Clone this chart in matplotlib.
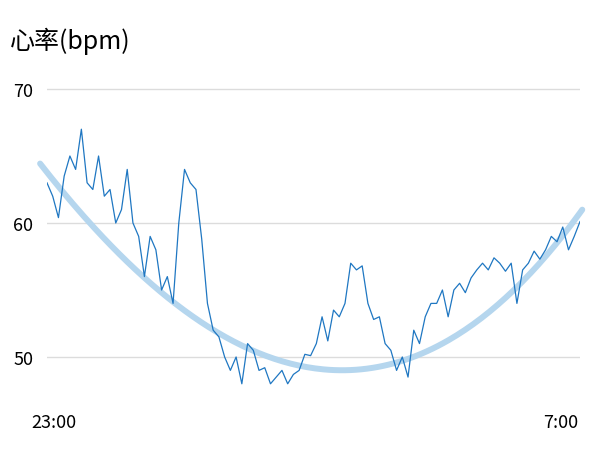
import numpy as np
import matplotlib
matplotlib.use("Agg")
import matplotlib.pyplot as plt

plt.rcParams['font.family'] = ['Noto Sans CJK SC', 'DejaVu Sans']

# heart rate samples, 23:00 -> 7:00
heart_rate = [
    63.0, 62.0, 60.4, 63.5, 65.0, 64.0, 67.0, 63.0, 62.5, 65.0,
    62.0, 62.5, 60.0, 61.0, 64.0, 60.0, 59.0, 56.0, 59.0, 58.0,
    55.0, 56.0, 54.0, 60.0, 64.0, 63.0, 62.5, 58.8, 54.0, 52.0,
    51.5, 50.0, 49.0, 50.0, 48.0, 51.0, 50.5, 49.0, 49.2, 48.0,
    48.5, 49.0, 48.0, 48.7, 49.0, 50.2, 50.1, 51.0, 53.0, 51.2,
    53.5, 53.0, 54.0, 57.0, 56.5, 56.8, 54.0, 52.8, 53.0, 51.0,
    50.5, 49.0, 50.0, 48.5, 52.0, 51.0, 53.0, 54.0, 54.0, 55.0,
    53.0, 55.0, 55.5, 54.8, 55.9, 56.5, 57.0, 56.5, 57.4, 57.0,
    56.4, 57.0, 54.0, 56.5, 57.0, 57.9, 57.3, 58.0, 59.0, 58.6,
    59.7, 58.0, 59.0, 60.1,
]
# trend curve (sample index, bpm)
trend_idx = [-1.2, 7.6, 17.1, 22.1, 26.7, 29.9, 44.2, 52.9, 61.6, 66.8, 75.6, 84.3, 92.4]
trend_bpm = [64.4, 60.05, 55.95, 54.1, 52.45, 51.6, 49.5, 49.2, 49.7, 50.6, 52.6, 56.1, 60.55]
y_ticks = [50, 60, 70]
time_labels = ['23:00', '7:00']

x = np.arange(len(heart_rate))
coef = np.polyfit(trend_idx, trend_bpm, 3)
xs = np.linspace(trend_idx[0], len(heart_rate) - 0.6, 200)
trend = np.polyval(coef, xs)

fig = plt.figure(figsize=(6, 4.56), dpi=100)
ax = fig.add_axes([0.0783, 0.0974, 0.8883, 0.7346])

ax.plot(xs, trend, color='#b5d6ee', lw=4.3, solid_capstyle='round', zorder=2, clip_on=False)
ax.plot(x, heart_rate, color='#1f77c2', lw=0.9, zorder=3)

ax.set_xlim(0, len(heart_rate) - 1)
ax.set_ylim(46, 71)
ax.set_yticks(y_ticks)
ax.set_yticklabels([str(v) for v in y_ticks], fontsize=13)
ax.grid(axis='y', color='#dcdcdc', lw=1)
ax.set_axisbelow(True)
ax.set_xticks([1.2, len(heart_rate) - 4.4])
ax.set_xticklabels(time_labels, fontsize=13)
ax.tick_params(length=0)
ax.tick_params(axis='y', pad=10)
ax.tick_params(axis='x', pad=1.5)
for s in ax.spines.values():
    s.set_visible(False)

fig.text(0.017, 0.91, '心率(bpm)', fontsize=18, va='center', ha='left')

fig.savefig('out.png', dpi=100)
